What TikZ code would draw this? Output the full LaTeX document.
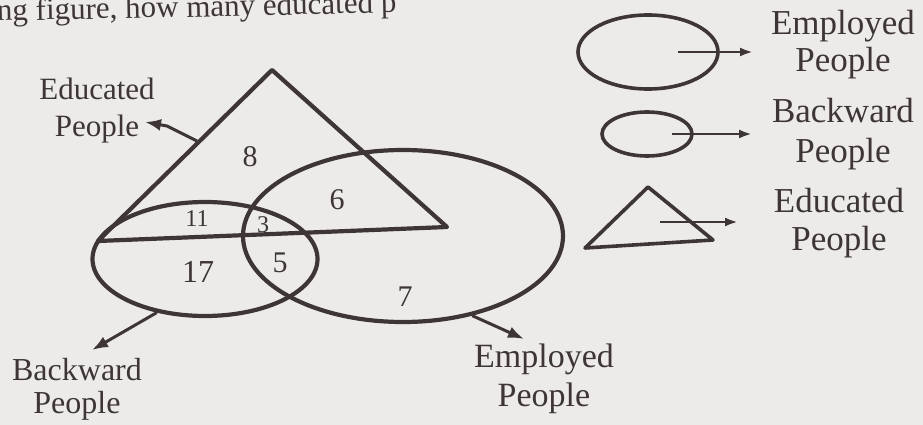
\documentclass[tikz,border=0pt]{standalone}
\usepackage{fontspec}
\setmainfont{Liberation Serif}
\usepackage{tikz}
\usetikzlibrary{arrows.meta,shapes.geometric}
\definecolor{paper}{RGB}{237,235,234}
\definecolor{ink}{RGB}{62,54,54}
\tikzset{
  setline/.style={draw=ink, line width=4.2pt, line join=round},
  setshape/.style={setline, ellipse, inner sep=0pt},
  keyline/.style={draw=ink, line width=3.6pt, line join=round},
  keyshape/.style={keyline, ellipse, inner sep=0pt},
  pointer/.style={draw=ink, line width=3pt, -{Latex[length=16pt,width=12pt]}},
  keypointer/.style={draw=ink, line width=2.6pt, -{Latex[length=13pt,width=9pt]}},
  tag/.style={text=ink, align=center, inner sep=0pt},
  num/.style={text=ink, inner sep=0pt, font=\fontsize{30}{30}\selectfont},
  smallnum/.style={text=ink, inner sep=0pt, font=\fontsize{24}{24}\selectfont},
}
\begin{document}
\begin{tikzpicture}[x=1pt,y=-1pt]
\useasboundingbox (0,0) rectangle (923,425);
% objects at depth 100:
\path[fill=paper] (0,0) rectangle (923,425);
\node[text=ink, inner sep=0pt, anchor=base west, rotate=1.2, font=\fontsize{31}{31}\selectfont] (question) at (-3,21) {ng figure, how many educated p};
% objects at depth 75:
\draw[setline] (272,70) coordinate (apex) -- (98,241) coordinate (baseL) -- (447,227) coordinate (baseR) -- cycle;
\node[setshape, minimum width=320pt, minimum height=172pt] (employed) at (403,236) {};
\node[setshape, minimum width=225pt, minimum height=114pt] (backward) at (205,259) {};
\coordinate (eduside) at (197,141);
% objects at depth 50:
\node[num] (n8) at (250,157) {8};
\node[num] (n6) at (337,200) {6};
\node[smallnum] (n11) at (197,219) {11};
\node[smallnum] (n3) at (263,225) {3};
\node[num, font=\fontsize{32}{32}\selectfont] (n17) at (198,272) {17};
\node[num] (n5) at (280,263) {5};
\node[num] (n7) at (405,297) {7};
\node[tag, font=\fontsize{31}{37}\selectfont] (edutag) at (97,111) {Educated\\People};
\node[tag, font=\fontsize{32}{33}\selectfont] (bwdtag) at (77,389) {Backward\\People};
\node[tag, font=\fontsize{34}{39}\selectfont] (emptag) at (544,379) {Employed\\People};
\coordinate (edutip) at (145,122);
\coordinate (bwdtip) at (92,350);
\coordinate (emptip) at (524,339);
\draw[pointer] (eduside) -- (167,126) -- (edutip);
\draw[pointer] (backward.-132) -- (bwdtip);
\draw[pointer] (employed.-49) -- (emptip);
% legend:
\node[keyshape, minimum width=140pt, minimum height=74pt] (legemp) at (648,52) {};
\node[keyshape, minimum width=90pt, minimum height=44pt] (legbwd) at (647,134) {};
\draw[keyline] (648,187) coordinate (legapex) -- (585,248) -- (713,240) -- cycle;
\node[tag, font=\fontsize{35}{37}\selectfont] (legemptag) at (843,45) {Employed\\People};
\node[tag, font=\fontsize{35}{40}\selectfont] (legbwdtag) at (843,134) {Backward\\People};
\node[tag, font=\fontsize{35}{38}\selectfont] (legedutag) at (839,223) {Educated\\People};
\draw[keypointer] ([xshift=30pt]legemp.center) -- ++(75,0);
\draw[keypointer] ([xshift=25pt]legbwd.center) -- ++(80,0);
\draw[keypointer] (660,222) coordinate (legedustart) -- ++(78,0);
\end{tikzpicture}
\end{document}
